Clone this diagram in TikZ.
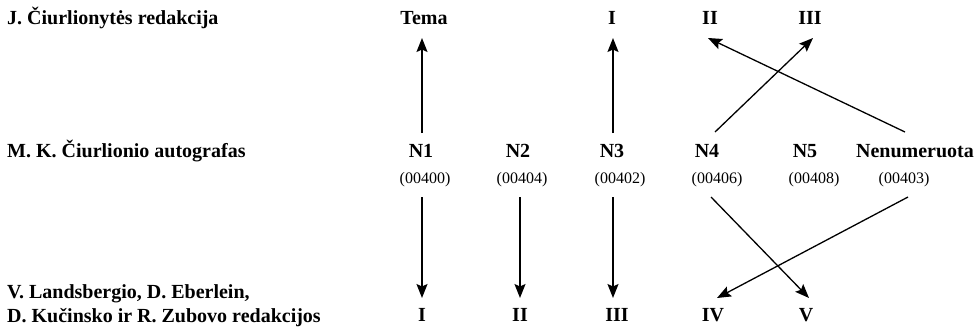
\documentclass[tikz,border=0pt]{standalone}
\usepackage{fontspec}
\setmainfont{Liberation Serif}
\usetikzlibrary{arrows.meta}
\begin{document}
\begin{tikzpicture}[x=1pt,y=-1pt,
  lab/.style={font=\fontsize{20}{24}\selectfont\bfseries, inner sep=0pt, anchor=base},
  side/.style={lab, anchor=base west},
  code/.style={font=\fontsize{16}{19}\selectfont, inner sep=0pt, anchor=base},
  arr/.style={line width=1.3pt, -{Stealth[length=14pt,width=11pt,inset=2.5pt]}}]
\useasboundingbox (0,0) rectangle (975,330);

% row titles
\node[side] (rowA) at (7,24) {J. Čiurlionytės redakcija};
\node[side] (rowB) at (7,157) {M. K. Čiurlionio autografas};
\node[side] (rowC1) at (7,298) {V. Landsbergio, D. Eberlein,};
\node[side] (rowC2) at (7,322) {D. Kučinsko ir R. Zubovo redakcijos};

% top row
\node[lab] (ttema) at (424,24) {Tema};
\node[lab] (tI)    at (612,24) {I};
\node[lab] (tII)   at (710,24) {II};
\node[lab] (tIII)  at (810,24) {III};

% manuscripts
\node[lab] (n1)  at (421,157) {N1};
\node[lab] (n2)  at (518,157) {N2};
\node[lab] (n3)  at (612,157) {N3};
\node[lab] (n4)  at (707,157) {N4};
\node[lab] (n5)  at (805,157) {N5};
\node[lab] (nen) at (915,157) {Nenumeruota};

\node[code] (c1) at (425,183) {(00400)};
\node[code] (c2) at (522,183) {(00404)};
\node[code] (c3) at (620,183) {(00402)};
\node[code] (c4) at (717,183) {(00406)};
\node[code] (c5) at (814,183) {(00408)};
\node[code] (c6) at (904,183) {(00403)};

% bottom row
\node[lab] (b1) at (422,321) {I};
\node[lab] (b2) at (520,321) {II};
\node[lab] (b3) at (617,321) {III};
\node[lab] (b4) at (713,321) {IV};
\node[lab] (b5) at (806,321) {V};

% upward connections
\draw[arr] ([shift={(1pt,24pt)}]n1.base) -- ([shift={(-2pt,-14pt)}]ttema.base);
\draw[arr] ([shift={(1pt,24pt)}]n3.base) -- ([shift={(1pt,-14pt)}]tI.base);
\draw[arr] ([shift={(-10pt,25pt)}]nen.base) -- ([shift={(-2pt,-14pt)}]tII.base);
\draw[arr] ([shift={(8pt,25pt)}]n4.base) -- ([shift={(3pt,-14pt)}]tIII.base);

% downward connections
\draw[arr] ([shift={(-3pt,-14pt)}]c1.base) -- ([shift={(0pt,23pt)}]b1.base);
\draw[arr] ([shift={(-2pt,-14pt)}]c2.base) -- ([shift={(0pt,23pt)}]b2.base);
\draw[arr] ([shift={(-7pt,-14pt)}]c3.base) -- ([shift={(-4pt,23pt)}]b3.base);
\draw[arr] ([shift={(-6pt,-14pt)}]c4.base) -- ([shift={(3pt,23pt)}]b5.base);
\draw[arr] ([shift={(4pt,-14pt)}]c6.base) -- ([shift={(4pt,23pt)}]b4.base);
\end{tikzpicture}
\end{document}
